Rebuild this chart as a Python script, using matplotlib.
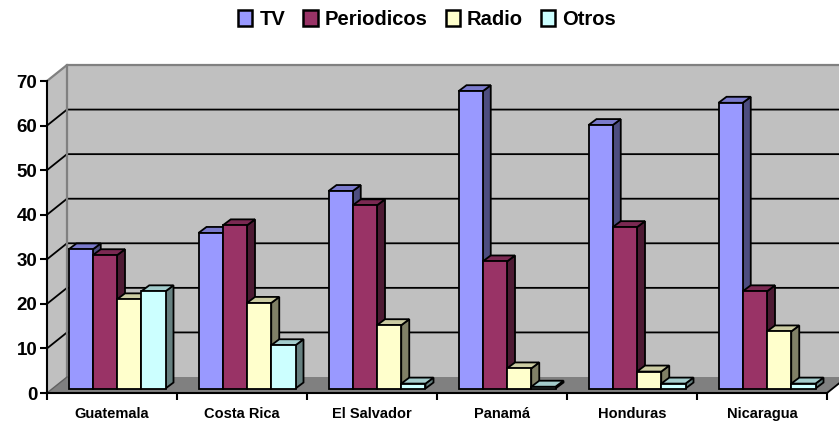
import matplotlib

matplotlib.use("Agg")
import matplotlib.pyplot as plt
from matplotlib.patches import Patch, Polygon

plt.rcParams["font.family"] = ["Liberation Sans", "DejaVu Sans"]

# --- data ---
paises = ["Guatemala", "Costa Rica", "El Salvador", "Panamá", "Honduras", "Nicaragua"]
series = ["TV", "Periodicos", "Radio", "Otros"]
tv = [31.2, 34.9, 44.3, 66.7, 59.1, 64.1]
periodicos = [29.9, 36.6, 41.1, 28.5, 36.2, 21.8]
radio = [20.0, 19.2, 14.2, 4.5, 3.8, 12.8]
otros = [21.8, 9.7, 1.1, 0.4, 1.1, 1.1]
y_ticks = [0, 10, 20, 30, 40, 50, 60, 70]

# front, top, side colours (Excel style shading)
front_cols = ["#9999FF", "#993366", "#FFFFCC", "#CCFFFF"]
top_cols = ["#7A7ACC", "#7A2952", "#CCCCA3", "#A3CCCC"]
side_cols = ["#4D4D80", "#4D1A33", "#808066", "#668080"]

W, H = 839, 423
PX_X = 130.0            # pixels per category
PX_Y = 312.0 / 70.0     # pixels per value unit

# 3d offsets, converted to data units
wall_dx, wall_dy = 20 / PX_X, 16 / PX_Y
bar_fx, bar_fy = 5 / PX_X, 4.5 / PX_Y
bar_dx, bar_dy = 8 / PX_X, 6 / PX_Y
bar_w = 24.25 / PX_X
gap = (1 - 4 * bar_w) / 2

fig = plt.figure(figsize=(W / 100, H / 100), dpi=100)
ax = fig.add_axes([47 / W, 30 / H, 780 / W, 312 / H])
n = len(paises)
ax.set_xlim(0, n)
ax.set_ylim(0, 70)
ax.set_facecolor("none")


def poly(pts, fc, ec="black", lw=1.3, z=3):
    p = Polygon(pts, closed=True, facecolor=fc, edgecolor=ec, linewidth=lw,
                joinstyle="miter", clip_on=False, zorder=z)
    ax.add_patch(p)


ymax = y_ticks[-1]
# side wall, back wall, floor
poly([(0, 0), (0, ymax), (wall_dx, ymax + wall_dy), (wall_dx, wall_dy)], "#C0C0C0", ec="none", z=1)
poly([(wall_dx, wall_dy), (wall_dx, ymax + wall_dy), (n + wall_dx, ymax + wall_dy),
      (n + wall_dx, wall_dy)], "#C0C0C0", ec="none", z=1)
poly([(0, 0), (n, 0), (n + wall_dx, wall_dy), (wall_dx, wall_dy)], "#808080", ec="none", z=1.6)

for v in y_ticks[1:-1]:
    ax.plot([0, wall_dx, n + wall_dx], [v, v + wall_dy, v + wall_dy], color="black",
            lw=1.3, clip_on=False, zorder=1.5)
ax.plot([0, wall_dx], [0, wall_dy], color="#606060", lw=1.0, clip_on=False, zorder=1.7)
ax.plot([0, wall_dx, n + wall_dx], [ymax, ymax + wall_dy, ymax + wall_dy], color="#808080",
        lw=1.6, clip_on=False, zorder=1.5)
ax.plot([wall_dx, wall_dx], [wall_dy, ymax + wall_dy], color="#808080", lw=1.6,
        clip_on=False, zorder=1.5)
ax.plot([n, n + wall_dx], [0, wall_dy], color="black", lw=1.3, clip_on=False, zorder=2)

# bars
for i in range(n):
    vals = [tv[i], periodicos[i], radio[i], otros[i]]
    for j, v in enumerate(vals):
        x0 = i + gap + j * bar_w + bar_fx
        x1 = x0 + bar_w
        y0 = bar_fy
        y1 = bar_fy + v
        poly([(x1, y0), (x1 + bar_dx, y0 + bar_dy), (x1 + bar_dx, y1 + bar_dy), (x1, y1)],
             side_cols[j], z=3 + j)
        poly([(x0, y1), (x1, y1), (x1 + bar_dx, y1 + bar_dy), (x0 + bar_dx, y1 + bar_dy)],
             top_cols[j], z=3 + j)
        poly([(x0, y0), (x1, y0), (x1, y1), (x0, y1)], front_cols[j], z=3 + j)

# axes
for s in ["top", "right"]:
    ax.spines[s].set_visible(False)
for s in ["left", "bottom"]:
    ax.spines[s].set_color("black")
    ax.spines[s].set_linewidth(1.5)
    ax.spines[s].set_zorder(2.5)

ax.set_yticks(y_ticks)
ax.set_yticklabels([str(t) for t in y_ticks], fontsize=13.5, fontweight="bold")
ax.tick_params(axis="y", length=5, width=1.5, pad=2)

ax.set_xticks(range(n + 1))
ax.set_xticklabels([])
ax.set_xticks([i + 0.5 for i in range(n)], minor=True)
ax.set_xticklabels(paises, minor=True, fontsize=10.5, fontweight="bold")
ax.tick_params(axis="x", which="major", length=5, width=1.5)
ax.tick_params(axis="x", which="minor", length=0, pad=10)

handles = [Patch(facecolor=c, edgecolor="black", linewidth=1.8) for c in front_cols]
fig.legend(handles, series, loc="center", bbox_to_anchor=(0.509, 0.953), ncol=4, frameon=False,
           prop={"weight": "bold", "size": 14.5}, handlelength=0.7, handleheight=0.85,
           handletextpad=0.35, columnspacing=0.9, borderpad=0)

fig.savefig("out.png", dpi=100)
